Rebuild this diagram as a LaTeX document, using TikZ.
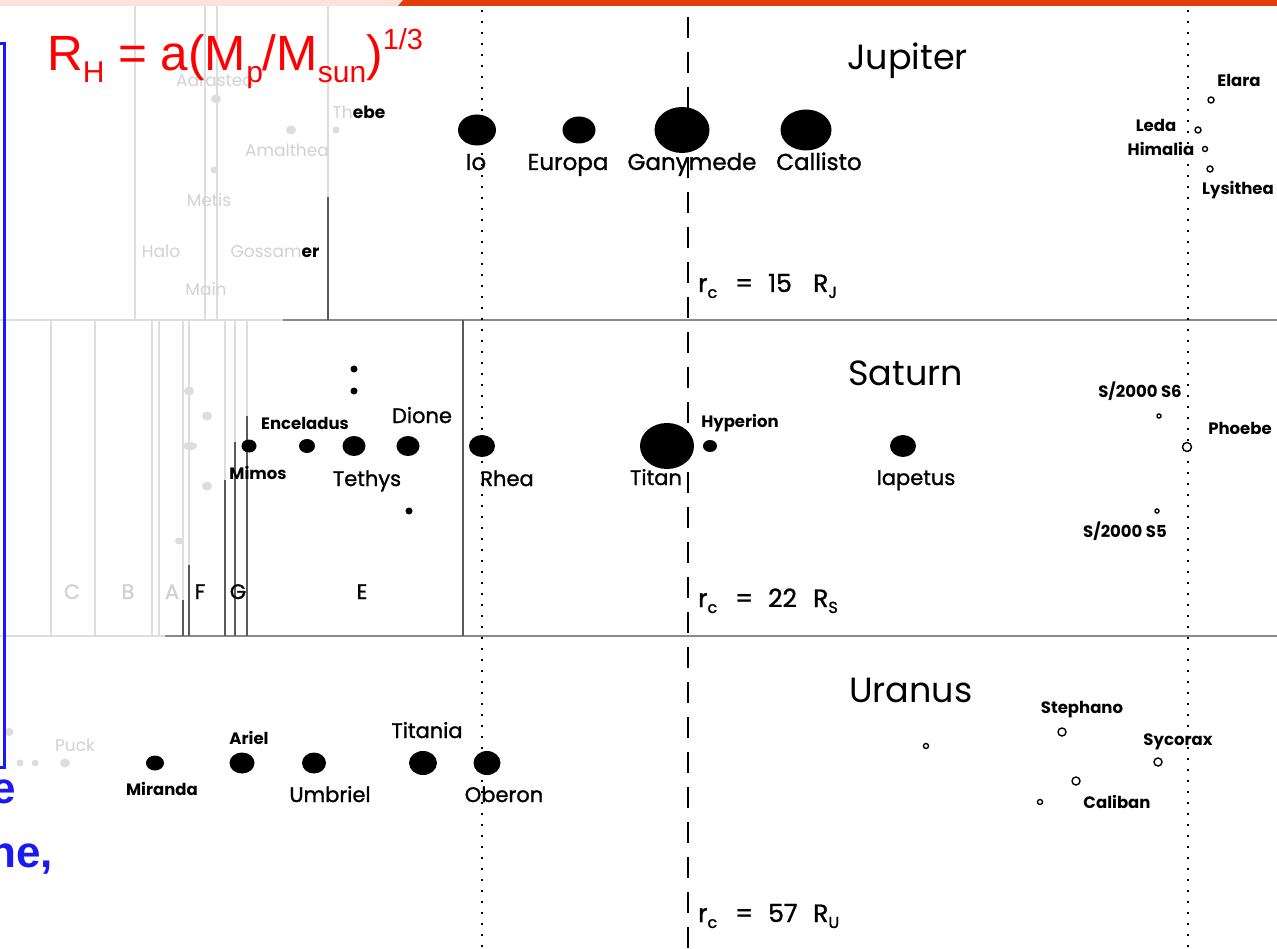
\documentclass[tikz,border=0pt]{standalone}
\usepackage{fontspec}
\setmainfont{Poppins}
\newfontfamily\popmed[FakeBold=1.2]{Poppins}
\newfontfamily\arialf{Liberation Sans}
\usetikzlibrary{shapes.geometric}
\definecolor{faint}{HTML}{DDDDDD}
\definecolor{fainttext}{HTML}{D2D2D2}
\definecolor{sepgray}{HTML}{8A8A8A}
\definecolor{ringgray}{HTML}{5A5A5A}
\definecolor{barorange}{HTML}{E03C0C}
\definecolor{barpink}{HTML}{FBE2DA}
\definecolor{slideblue}{HTML}{1A1AF5}
\definecolor{formred}{HTML}{FF0000}
\newcommand{\rcsub}[1]{\raisebox{-6pt}{\fontsize{16}{16}\selectfont #1}}
\newcommand{\rclabel}[2]{\makebox[37pt][l]{r\rcsub{c}}\makebox[33pt][l]{=}\makebox[45pt][l]{#1}R\rcsub{#2}}
\begin{document}
\begin{tikzpicture}[x=1pt,y=-1pt,
  moon/.style={ellipse, fill=black, inner sep=0pt},
  omoon/.style={circle, draw=black, line width=1.4pt, fill=white, inner sep=0pt},
  fdot/.style={ellipse, fill=faint, inner sep=0pt},
  lbl/.style={anchor=base, inner sep=0pt, font=\popmed\fontsize{23}{23}\selectfont},
  mlbl/.style={anchor=base, inner sep=0pt, font=\popmed\fontsize{21}{21}\selectfont},
  slbl/.style={anchor=base, inner sep=0pt, font=\fontsize{16.5}{16.5}\selectfont\bfseries},
  flbl/.style={anchor=base, inner sep=0pt, text=fainttext, font=\fontsize{17}{17}\selectfont},
  ringlbl/.style={anchor=base, inner sep=0pt, font=\popmed\fontsize{21}{21}\selectfont},
  planet/.style={anchor=base west, inner sep=0pt, font=\fontsize{35}{35}\selectfont},
  rclbl/.style={anchor=base west, inner sep=0pt, font=\popmed\fontsize{25}{25}\selectfont},
  sep/.style={draw=sepgray, line width=2.5pt},
  fline/.style={draw=faint, line width=1.5pt},
  ring/.style={draw=ringgray, line width=1.5pt},
  dotline/.style={draw=black, line width=1.6pt, dash pattern=on 2pt off 9pt},
  dashline/.style={draw=black, line width=2.5pt, dash pattern=on 21pt off 14pt},
]
\useasboundingbox (0,0) rectangle (1277,949);
\clip (0,0) rectangle (1277,949);
\fill[white] (0,0) rectangle (1277,949);

% top bar
\fill[barpink] (0,0) rectangle (402,6);
\fill[barorange] (398,6) -- (403,0) -- (1277,0) -- (1277,6) -- cycle;

% faint structure (left)
\foreach \xx in {135,205,217} \draw[fline] (\xx,6) -- (\xx,320);
\draw[fline] (328,6) -- (328,197);
\draw[fline] (0,320) -- (283,320);
\foreach \xx in {51,95,152,159,183,189,225,235,247} \draw[fline] (\xx,320) -- (\xx,636);
\draw[fline] (0,636) -- (165,636);

% separators
\draw[sep] (283,320) -- (1277,320);
\draw[sep] (165,636) -- (1277,636);

% dark vertical lines
\draw[ring] (328,197) -- (328,320);
\draw[ring] (183,600) -- (183,636);
\draw[ring] (189,565) -- (189,636);
\draw[ring] (225,480) -- (225,636);
\draw[ring] (235,442) -- (235,636);
\draw[ring] (247,416) -- (247,636);
\draw[ring] (463,320) -- (463,636);

% reference lines
\draw[dotline] (482,10) -- (482,949);
\draw[dotline] (1188,10) -- (1188,949);
\draw[dashline] (688,17) -- (688,949);

% ---------- Jupiter ----------
\node[planet] (jup) at (847,70) {Jupiter};
\node[fdot, minimum width=10, minimum height=9] (adr) at (216,99) {};
\node[fdot, minimum width=10, minimum height=9] (ama) at (291,130) {};
\node[fdot, minimum width=7, minimum height=7] (met) at (214,170) {};
\node[fdot, minimum width=7, minimum height=7] (the) at (336,130) {};
\node[flbl] (adrl) at (215,87) {Adrastea};
\node[flbl] (amal) at (287,157) {Amalthea};
\node[flbl] (metl) at (209,207) {Metis};
\node[flbl] (halo) at (161,258) {Halo};
\node[flbl] (goss) at (275,258) {Gossam\textcolor{black}{\bfseries er}};
\node[flbl] (mainr) at (206,296) {Main};
\node[flbl] (thel) at (359,119) {Th\textcolor{black}{\bfseries ebe}};

\node[moon, minimum width=38, minimum height=31] (io) at (477,130) {};
\node[moon, minimum width=33, minimum height=27] (eur) at (579,130) {};
\node[moon, minimum width=55, minimum height=46] (gan) at (682,130) {};
\node[moon, minimum width=51, minimum height=41] (cal) at (806,130) {};
\node[lbl] (iol) at (476,170) {Io};
\node[lbl] (eurl) at (568,170) {Europa};
\node[lbl] (ganl) at (692,170) {Ganymede};
\node[lbl] (call) at (819,170) {Callisto};

\node[omoon, minimum size=6] (ela) at (1211,100) {};
\node[omoon, minimum size=6] (led) at (1198,130) {};
\node[omoon, minimum size=5] (him) at (1205,149) {};
\node[omoon, minimum size=6] (lys) at (1210,169) {};
\node[slbl] (elal) at (1239,87) {Elara};
\node[slbl] (ledl) at (1156,132) {Leda};
\node[slbl] (himl) at (1161,156) {Himalia};
\node[slbl] (lysl) at (1238,195) {Lysithea};

\node[rclbl] (rcj) at (698,292) {\rclabel{15}{J}};

% ---------- Saturn ----------
\node[planet] (sat) at (848,386) {Saturn};
\node[fdot, minimum width=10, minimum height=9] (sf1) at (189,391) {};
\node[fdot, minimum width=10, minimum height=9] (sf2) at (207,416) {};
\node[fdot, minimum width=14, minimum height=8] (sf3) at (190,446) {};
\node[fdot, minimum width=10, minimum height=9] (sf4) at (207,486) {};
\node[fdot, minimum width=8, minimum height=7] (sf5) at (179,541) {};

\node[moon, minimum width=15, minimum height=13] (mim) at (249,446) {};
\node[moon, minimum width=16, minimum height=14] (enc) at (307,446) {};
\node[moon, minimum width=23, minimum height=20] (tet) at (354,446) {};
\node[moon, minimum width=23, minimum height=20] (dio) at (408,446) {};
\node[moon, minimum width=26, minimum height=22] (rhe) at (482,446) {};
\node[moon, minimum width=54, minimum height=46] (tit) at (667,446) {};
\node[moon, minimum width=14, minimum height=12] (hyp) at (710,446) {};
\node[moon, minimum width=26, minimum height=22] (iap) at (903,446) {};
\node[moon, minimum width=7, minimum height=7] (sd1) at (354,369) {};
\node[moon, minimum width=7, minimum height=7] (sd2) at (354,391) {};
\node[moon, minimum width=7, minimum height=7] (sd3) at (409,511) {};
\node[omoon, minimum size=4] (s6) at (1159,416) {};
\node[omoon, minimum size=9] (pho) at (1187,447) {};
\node[omoon, minimum size=4] (s5) at (1157,511) {};

\node[slbl] (encl) at (305,429) {Enceladus};
\node[mlbl] (diol) at (422,423) {Dione};
\node[slbl] (miml) at (258,479) {Mimos};
\node[mlbl] (tetl) at (367,486) {Tethys};
\node[mlbl] (rhel) at (507,486) {Rhea};
\node[mlbl] (titl) at (656,485) {Titan};
\node[slbl] (hypl) at (740,428) {Hyperion};
\node[mlbl] (iapl) at (916,485) {Iapetus};
\node[slbl] (s6l) at (1140,398) {S/2000 S6};
\node[slbl] (phol) at (1240,435) {Phoebe};
\node[slbl] (s5l) at (1125,537) {S/2000 S5};

\node[ringlbl, text=fainttext] (rc) at (72,599) {C};
\node[ringlbl, text=fainttext] (rb) at (128,599) {B};
\node[ringlbl, text=fainttext] (ra) at (172,599) {A};
\node[ringlbl] (rf) at (200,599) {F};
\node[ringlbl] (rg) at (238,599) {G};
\node[ringlbl] (re) at (362,599) {E};

\node[rclbl] (rcs) at (698,607) {\rclabel{22}{S}};

% ---------- Uranus ----------
\node[planet] (ura) at (849,702) {Uranus};
\node[fdot, minimum width=9, minimum height=8] (uf0) at (9,732) {};
\node[fdot, minimum width=7, minimum height=7] (uf1) at (20,763) {};
\node[fdot, minimum width=7, minimum height=7] (uf2) at (35,763) {};
\node[fdot, minimum width=10, minimum height=9] (uf3) at (65,763) {};
\node[flbl] (puck) at (75,751) {Puck};

\node[moon, minimum width=18, minimum height=15] (mir) at (155,763) {};
\node[moon, minimum width=25, minimum height=21] (ari) at (242,763) {};
\node[moon, minimum width=24, minimum height=21] (umb) at (314,763) {};
\node[moon, minimum width=28, minimum height=24] (tia) at (423,763) {};
\node[moon, minimum width=27, minimum height=24] (obe) at (487,763) {};
\node[slbl] (mirl) at (162,795) {Miranda};
\node[slbl] (aril) at (249,744) {Ariel};
\node[mlbl] (umbl) at (330,802) {Umbriel};
\node[mlbl] (tial) at (427,738) {Titania};
\node[mlbl] (obel) at (504,802) {Oberon};

\node[omoon, minimum size=5] (u1) at (926,746) {};
\node[omoon, minimum size=8] (ste) at (1062,732) {};
\node[omoon, minimum size=8] (syc) at (1158,762) {};
\node[omoon, minimum size=8] (u2) at (1076,781) {};
\node[omoon, minimum size=5] (cab) at (1040,802) {};
\node[slbl] (stel) at (1082,713) {Stephano};
\node[slbl] (sycl) at (1178,745) {Sycorax};
\node[slbl] (cabl) at (1117,808) {Caliban};

\node[rclbl] (rcu) at (698,922) {\rclabel{57}{U}};

% ---------- slide overlay ----------
\draw[slideblue, line width=3pt] (-10,44) -- (4.5,44) -- (4.5,767) -- (-10,767);
\node[anchor=base east, inner sep=0pt, text=slideblue, font=\arialf\bfseries\fontsize{44}{44}\selectfont] (bl1) at (16,803) {e};
\node[anchor=base east, inner sep=0pt, text=slideblue, font=\arialf\bfseries\fontsize{44}{44}\selectfont] (bl2) at (53,867) {ne,};

\node[anchor=base west, inner sep=0pt, text=formred, font=\arialf\fontsize{49.5}{49.5}\selectfont] (form) at (47,71)
  {R\raisebox{-12pt}{\fontsize{30}{30}\selectfont H} = a(M\raisebox{-12pt}{\fontsize{30}{30}\selectfont p}/M\raisebox{-12pt}{\fontsize{30}{30}\selectfont sun})\raisebox{21pt}{\fontsize{29}{29}\selectfont 1/3}};
\end{tikzpicture}
\end{document}
